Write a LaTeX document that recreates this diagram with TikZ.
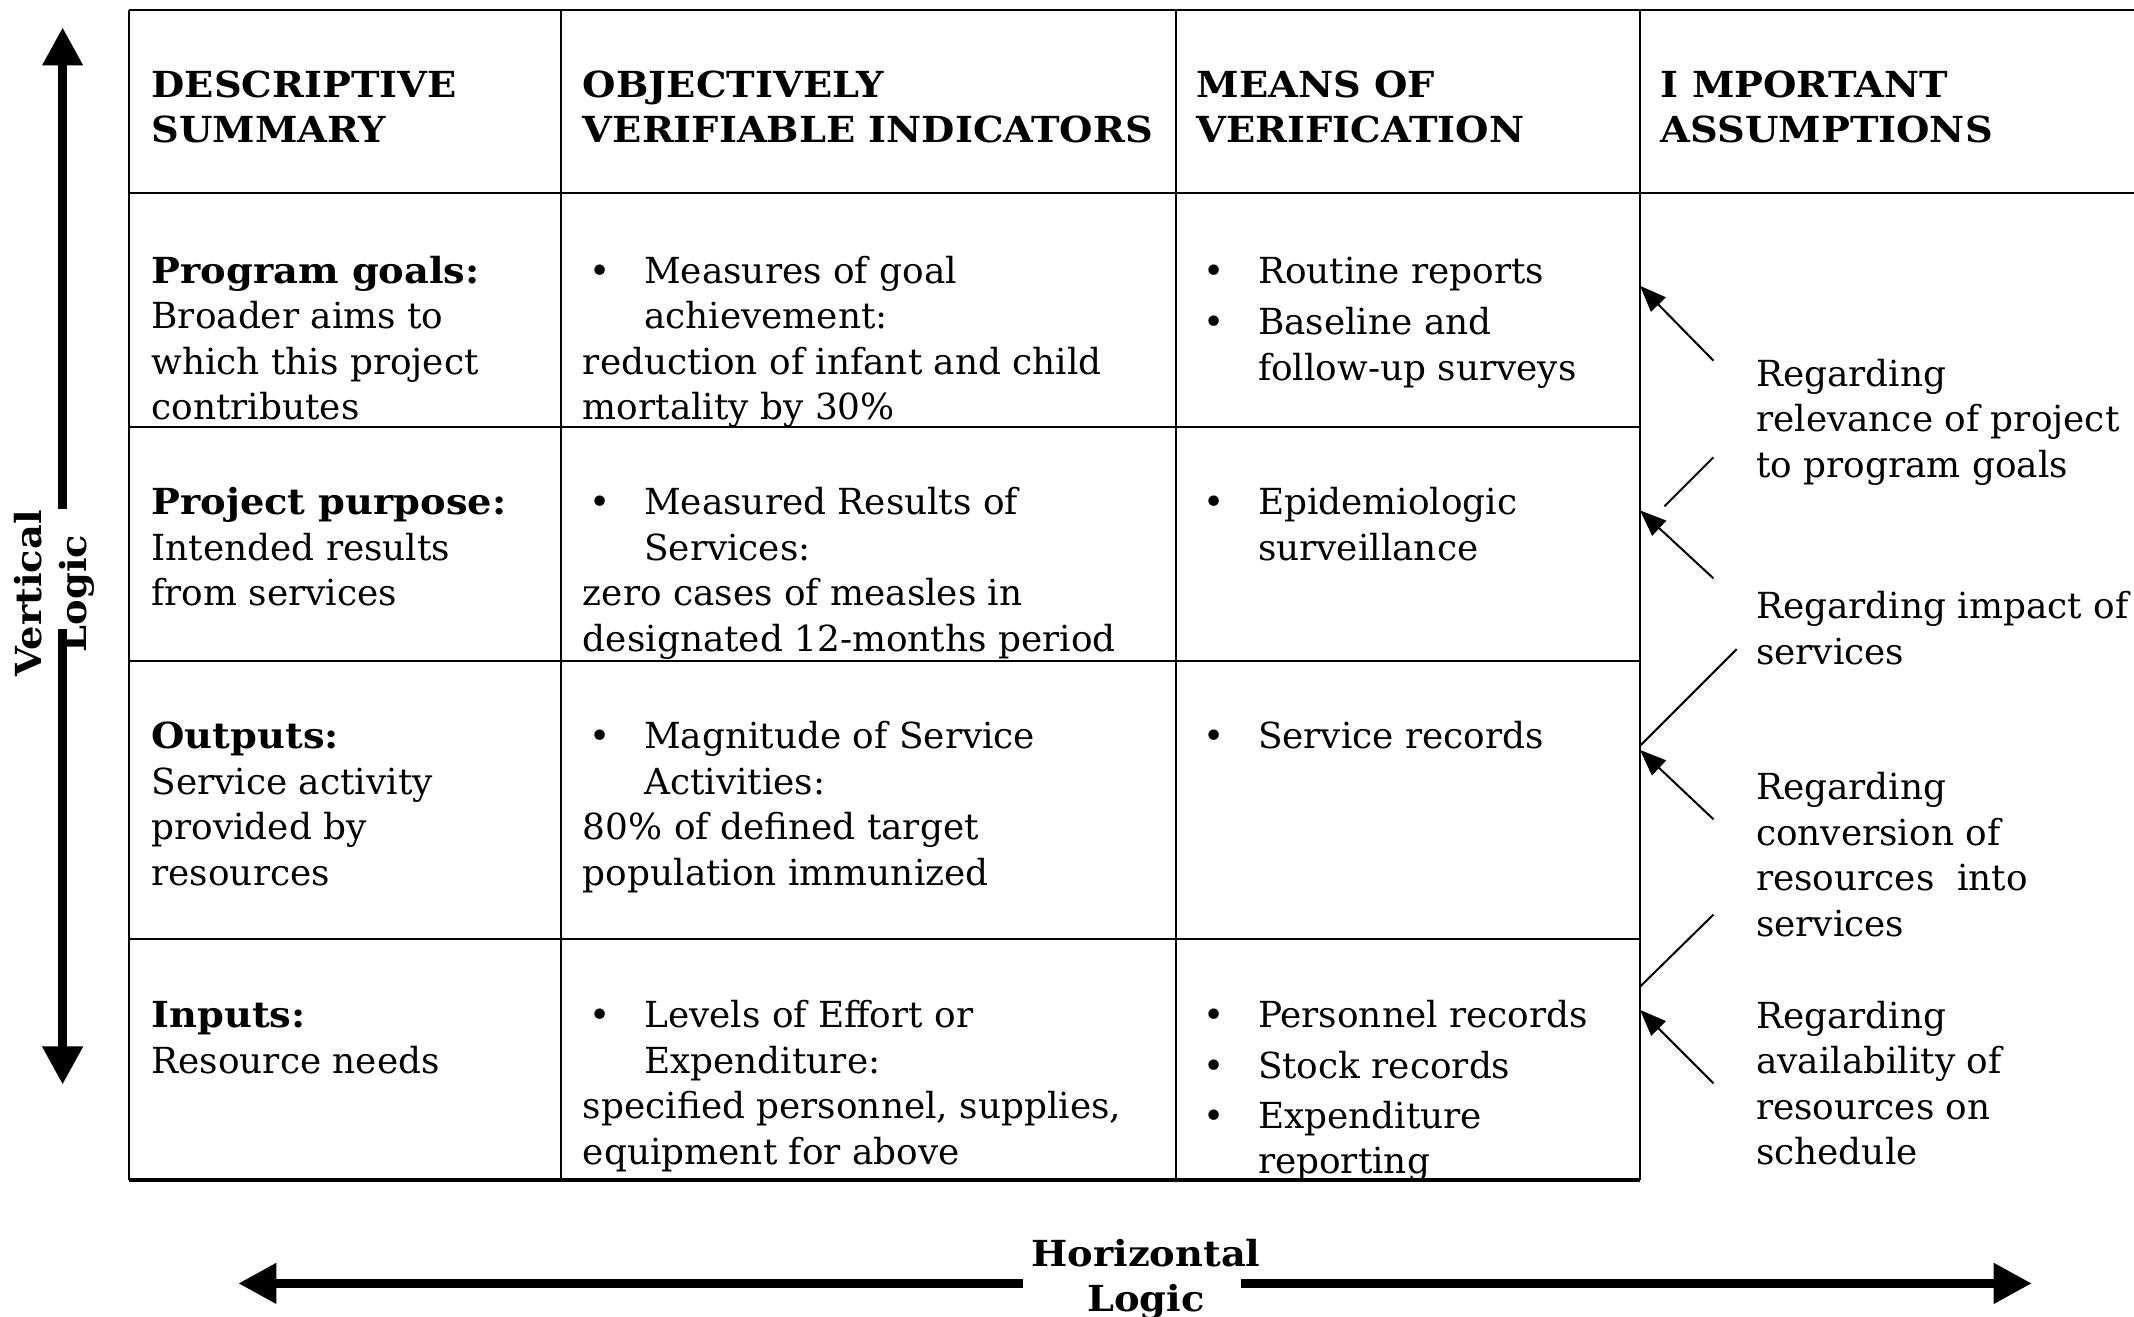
\documentclass[tikz,border=0pt]{standalone}
\usepackage{fontspec}
\setmainfont{DejaVu Serif}[BoldFeatures={FakeStretch=1.07}]
\usetikzlibrary{arrows.meta}
\newcommand{\cellfont}{\fontsize{15}{19}\selectfont}
\newcommand{\bul}{\makebox[0.9cm][l]{\hspace{0.1cm}\textbullet}}
\newcommand{\ind}{\hspace*{0.9cm}}
\tikzset{
  cell/.style={anchor=north west, inner sep=0pt, align=left, font=\cellfont},
  head/.style={cell, font=\cellfont\bfseries},
  logic/.style={line width=4pt, -{Triangle[length=16pt,width=16pt]}},
  assume/.style={line width=0.85pt, -{Triangle[length=11pt,width=8.5pt]}},
  rule/.style={line width=0.85pt}
}

\begin{document}
\begin{tikzpicture}[x=0.02cm, y=-0.02cm]
  \useasboundingbox (0,0) rectangle (1568,967);
  % Table
  \draw[rule] (95,7) -- (1568,7);
  \draw[rule] (95,142) -- (1568,142);
  \draw[rule] (95,314) -- (1205,314);
  \draw[rule] (95,486) -- (1205,486);
  \draw[rule] (95,690) -- (1205,690);
  \draw[rule, line width=1.3pt] (95,867) -- (1205,867);
  \draw[rule] (95,7) -- (95,867);
  \draw[rule] (412,7) -- (412,867);
  \draw[rule] (864,7) -- (864,867);
  \draw[rule] (1205,7) -- (1205,867);

  % Headers
  \node[head] (hsum) at (111,47.6) {\strut DESCRIPTIVE\\SUMMARY};
  \node[head] (hind) at (428,47.6) {\strut OBJECTIVELY\\VERIFIABLE INDICATORS};
  \node[head] (hver) at (879,47.6) {\strut MEANS OF\\VERIFICATION};
  \node[head] (hass) at (1220,47.6) {\strut I MPORTANT\\ASSUMPTIONS};

  % Program goals
  \node[cell] (goal) at (111,184.6) {\strut\textbf{Program goals:}\\Broader aims to\\which this project\\contributes};
  \node[cell] (goalind) at (428,184.6) {\strut\bul Measures of goal\\\ind achievement:\\reduction of infant and child\\mortality by 30\%};
  \node[cell] (goalver) at (879,184.6) {\strut\bul Routine reports\\[2.5pt]\bul Baseline and\\\ind follow-up surveys};

  % Project purpose
  \node[cell] (purp) at (111,354.6) {\strut\textbf{Project purpose:}\\Intended results\\from services};
  \node[cell] (purpind) at (428,354.6) {\strut\bul Measured Results of\\\ind Services:\\zero cases of measles in\\designated 12-months period};
  \node[cell] (purpver) at (879,354.6) {\strut\bul Epidemiologic\\\ind surveillance};

  % Outputs
  \node[cell] (outp) at (111,526.6) {\strut\textbf{Outputs:}\\Service activity\\provided by\\resources};
  \node[cell] (outpind) at (428,526.6) {\strut\bul Magnitude of Service\\\ind Activities:\\80\% of defined target\\population immunized};
  \node[cell] (outpver) at (879,526.6) {\strut\bul Service records};

  % Inputs
  \node[cell] (inp) at (111,731.6) {\strut\textbf{Inputs:}\\Resource needs};
  \node[cell] (inpind) at (428,731.6) {\strut\bul Levels of Effort or\\\ind Expenditure:\\specified personnel, supplies,\\equipment for above};
  \node[cell] (inpver) at (879,731.6) {\strut\bul Personnel records\\[2pt]\bul Stock records\\[2pt]\bul Expenditure\\\ind reporting};

  % Assumptions
  \node[cell] (relev) at (1290,260) {\strut Regarding\\relevance of project\\to program goals};
  \node[cell] (impact) at (1290,431) {\strut Regarding impact of\\services};
  \node[cell] (conv) at (1290,564) {\strut Regarding\\conversion of\\resources\ \ into\\services};
  \node[cell] (avail) at (1290,732) {\strut Regarding\\availability of\\resources on\\schedule};

  \coordinate (a1s) at (1259,265);  \coordinate (a1e) at (1205,210);
  \coordinate (l2s) at (1259,336);  \coordinate (l2e) at (1223,372);
  \coordinate (a2s) at (1259,425);  \coordinate (a2e) at (1205,375);
  \coordinate (l3s) at (1276,477);  \coordinate (l3e) at (1205,548);
  \coordinate (a3s) at (1259,602);  \coordinate (a3e) at (1205,551);
  \coordinate (l4s) at (1259,672);  \coordinate (l4e) at (1205,725);
  \coordinate (a4s) at (1259,796);  \coordinate (a4e) at (1205,742);
  \draw[assume] (a1s) -- (a1e);
  \draw[rule] (l2s) -- (l2e);
  \draw[assume] (a2s) -- (a2e);
  \draw[rule] (l3s) -- (l3e);
  \draw[assume] (a3s) -- (a3e);
  \draw[rule] (l4s) -- (l4e);
  \draw[assume] (a4s) -- (a4e);

  % Logic arrows
  \node[font=\cellfont\bfseries, align=center, rotate=90, inner sep=0pt] (vlog) at (40,436) {Vertical\\Logic};
  \node[font=\cellfont\bfseries, align=center, inner sep=0pt] (hlog) at (842,940) {Horizontal\\Logic};
  \coordinate (vtop) at (46,20);   \coordinate (vup) at (46,374);
  \coordinate (vdown) at (46,462); \coordinate (vbot) at (46,797);
  \coordinate (hleft) at (175,943); \coordinate (hlin) at (752,943);
  \coordinate (hrin) at (912,943);  \coordinate (hright) at (1493,943);
  \draw[logic] (vup) -- (vtop);
  \draw[logic] (vdown) -- (vbot);
  \draw[logic] (hlin) -- (hleft);
  \draw[logic] (hrin) -- (hright);
\end{tikzpicture}
\end{document}
